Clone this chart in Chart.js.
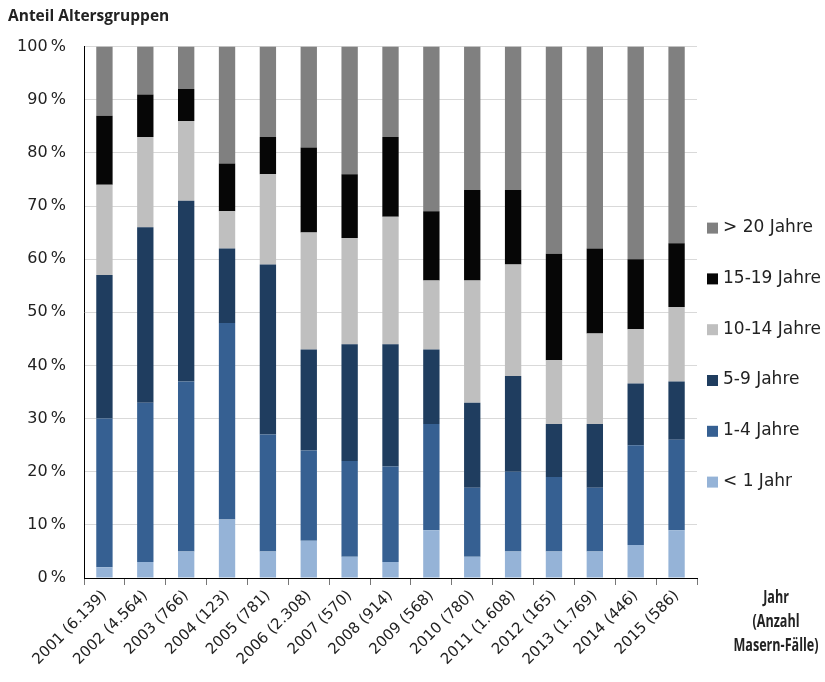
<!DOCTYPE html>
<html>
<head>
<meta charset="utf-8">
<script src="https://cdn.jsdelivr.net/npm/chart.js@4/dist/chart.umd.min.js"></script>
<style>
  html, body { margin: 0; padding: 0; background: #fff; }
  #wrap { width: 825px; height: 682px; position: relative; }
</style>
</head>
<body>
<div id="wrap"><canvas id="c"></canvas></div>
<script>
// Categories: year (number of measles cases)
const categories = ["2001 (6.139)", "2002 (4.564)", "2003 (766)", "2004 (123)", "2005 (781)",
  "2006 (2.308)", "2007 (570)", "2008 (914)", "2009 (568)", "2010 (780)", "2011 (1.608)",
  "2012 (165)", "2013 (1.769)", "2014 (446)", "2015 (586)"];

// Share of age groups in percent
const under1    = [2, 3, 5, 11, 5, 7, 4, 3, 9, 4, 5, 5, 5, 6.2, 9];
const age1to4   = [28, 30, 32, 37, 22, 17, 18, 18, 20, 13, 15, 14, 12, 18.8, 17];
const age5to9   = [27, 33, 34, 14, 32, 19, 22, 23, 14, 16, 18, 10, 12, 11.6, 11];
const age10to14 = [17, 17, 15, 7, 17, 22, 20, 24, 13, 23, 21, 12, 17, 10.2, 14];
const age15to19 = [13, 8, 6, 9, 7, 16, 12, 15, 13, 17, 14, 20, 16, 13.2, 12];
const over20    = [13, 9, 8, 22, 17, 19, 24, 17, 31, 27, 27, 39, 38, 40, 37];

const seriesLabels = ["< 1 Jahr", "1-4 Jahre", "5-9 Jahre", "10-14 Jahre", "15-19 Jahre", "> 20 Jahre"];
const yTickValues = [0, 10, 20, 30, 40, 50, 60, 70, 80, 90, 100];
const xAxisTitle = ["Jahr", "(Anzahl", "Masern-Fälle)"];
const chartTitle = "Anteil Altersgruppen";

const colors = ["#95b3d7", "#366092", "#1f3d5f", "#bfbfbf", "#060606", "#808080"];
const seriesData = [under1, age1to4, age5to9, age10to14, age15to19, over20];

const FONT = '"DejaVu Sans", "Open Sans", sans-serif';
const BOLD_FONT = '"Open Sans", "DejaVu Sans", sans-serif';
Chart.defaults.font.family = FONT;

const sidePlugin = {
  id: 'sidePlugin',
  afterDraw(chart) {
    const { ctx, chartArea: ca } = chart;
    ctx.save();
    // Legend (top to bottom: reversed series order)
    const ds = chart.data.datasets;
    const x0 = ca.right + 10;
    let y = ca.top + 181;
    const step = 50.8;
    ctx.font = '17px ' + FONT;
    ctx.textBaseline = 'middle';
    ctx.textAlign = 'left';
    for (let i = ds.length - 1; i >= 0; i--) {
      ctx.fillStyle = ds[i].backgroundColor;
      ctx.fillRect(x0, y - 5, 11, 11);
      ctx.fillStyle = '#222';
      ctx.fillText(ds[i].label, x0 + 16, y);
      y += step;
    }
    ctx.restore();
    // Axis title at lower right (condensed bold)
    ctx.save();
    ctx.font = 'bold 17px ' + BOLD_FONT;
    ctx.textAlign = 'center';
    ctx.textBaseline = 'middle';
    ctx.fillStyle = '#222';
    const cx = ca.right + 79;
    ctx.translate(cx, ca.bottom + 20);
    ctx.scale(0.74, 1);
    let ty = 0;
    xAxisTitle.forEach(t => { ctx.fillText(t, 0, ty); ty += 24; });
    ctx.restore();
  }
};

new Chart(document.getElementById('c'), {
  type: 'bar',
  data: {
    labels: categories,
    datasets: seriesData.map((d, i) => ({
      label: seriesLabels[i],
      data: d,
      backgroundColor: colors[i],
      borderWidth: 0,
      categoryPercentage: 0.8,
      barPercentage: 0.5
    }))
  },
  options: {
    responsive: true,
    maintainAspectRatio: false,
    animation: false,
    layout: { padding: { left: 8, right: 128, top: 0, bottom: 0 } },
    plugins: {
      legend: { display: false },
      tooltip: { enabled: false },
      title: {
        display: true, text: chartTitle, align: 'start', color: '#222',
        font: { family: BOLD_FONT, size: 15.5, weight: 'bold' }, padding: { top: 7, bottom: 21 }
      }
    },
    scales: {
      x: {
        stacked: true,
        afterFit: axis => { axis.height = 104; },
        grid: { drawOnChartArea: false, tickLength: 7, color: '#777' },
        border: { color: '#000' },
        ticks: { minRotation: 45, maxRotation: 45, autoSkip: false, color: '#222', font: { size: 15 }, padding: 2 }
      },
      y: {
        stacked: true, min: 0, max: 100,
        afterFit: axis => { axis.width = 76; },
        afterBuildTicks: axis => { axis.ticks = yTickValues.map(v => ({ value: v })); },
        ticks: { callback: v => v + '\u2009%', color: '#222', font: { size: 16 }, padding: 18 },
        grid: { color: '#d9d9d9', drawTicks: false },
        border: { color: '#000' }
      }
    }
  },
  plugins: [sidePlugin]
});
</script>
</body>
</html>
